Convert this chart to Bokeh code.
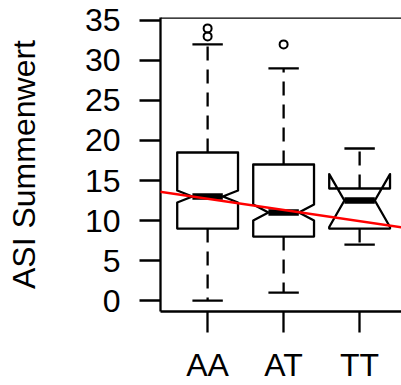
from bokeh.plotting import figure
from bokeh.models import Range1d, FixedTicker, ColumnDataSource, Slope, Span
from bokeh.embed import file_html
from bokeh.resources import INLINE

# Genotype groups and five-number summaries of the ASI sum score
groups = ["AA", "AT", "TT"]
whisker_low = [0, 1, 7]
hinge_low = [9, 8, 9]
medians = [13, 11, 12.5]
hinge_high = [18.5, 17, 14]
whisker_high = [32, 29, 19]
notch_low = [12.25, 10, 9.2]
notch_high = [13.75, 12, 15.8]

# Outlying observations per group
outlier_group = ["AA", "AA", "AT"]
outlier_value = [33, 34, 32]

# Linear trend across genotypes (intercept, slope)
trend_intercept = 14.13
trend_slope = -1.4

y_ticks = [0, 5, 10, 15, 20, 25, 30, 35]

FONT = "Liberation Sans"
LW = 2.3
half_w = 0.4
notch_frac = 0.5
staple_w = 0.2

positions = [i + 1 for i in range(len(groups))]

y_lo, y_hi = -1.36, 35.36
p = figure(width=401, height=385, output_backend="svg", toolbar_location=None,
           x_range=Range1d(0.38, 0.38 + 241 / 76), y_range=Range1d(y_lo, y_hi),
           min_border_left=160, min_border_right=0, min_border_top=17,
           min_border_bottom=74)
p.outline_line_color = None
p.background_fill_color = "white"
p.border_fill_color = "white"
p.xgrid.visible = False
p.ygrid.visible = False

# notched box outlines
xs_list, ys_list = [], []
for x, lo, c1, md, c2, hi in zip(positions, hinge_low, notch_low, medians,
                                 notch_high, hinge_high):
    offs = [-1, 1, 1, notch_frac, 1, 1, -1, -1, -notch_frac, -1]
    xs_list.append([x + half_w * o for o in offs])
    ys_list.append([lo, lo, c1, md, c2, hi, hi, c2, md, c1])
p.patches(xs_list, ys_list, fill_color=None, line_color="black", line_width=LW,
          line_join="round")

# medians
p.segment(x0=[x - half_w * notch_frac for x in positions], y0=medians,
          x1=[x + half_w * notch_frac for x in positions], y1=medians,
          line_color="black", line_width=6.5)

# whiskers (dashed, from hinge outwards)
p.segment(x0=positions + positions, y0=hinge_low + hinge_high,
          x1=positions + positions, y1=whisker_low + whisker_high,
          line_color="black", line_width=LW, line_dash="14 9")

# staples
p.segment(x0=[x - staple_w for x in positions] * 2, y0=whisker_low + whisker_high,
          x1=[x + staple_w for x in positions] * 2, y1=whisker_low + whisker_high,
          line_color="black", line_width=LW)

# outliers
out_src = ColumnDataSource(dict(
    x=[positions[groups.index(g)] for g in outlier_group], y=outlier_value))
p.scatter("x", "y", source=out_src, marker="circle", size=8, fill_color=None,
          line_color="black", line_width=2)

# regression line
p.add_layout(Slope(gradient=trend_slope, y_intercept=trend_intercept,
                   line_color="#ff0000", line_width=2.5))

# top border of the plot region
p.add_layout(Span(location=y_hi, dimension="width", line_color="black",
                  line_width=LW))

# axes
for ax in (p.xaxis[0], p.yaxis[0]):
    ax.axis_line_color = "black"
    ax.axis_line_width = LW
    ax.major_tick_line_color = "black"
    ax.major_tick_line_width = LW
    ax.major_tick_out = 21
    ax.major_tick_in = 0
    ax.minor_tick_line_color = None
    ax.major_label_text_font = FONT
    ax.major_label_text_font_size = "32px"
    ax.major_label_text_color = "black"

p.xaxis.ticker = FixedTicker(ticks=positions)
p.xaxis.major_label_overrides = {x: g for x, g in zip(positions, groups)}
p.xaxis.major_label_standoff = 14

p.yaxis.ticker = FixedTicker(ticks=y_ticks)
p.yaxis.major_label_orientation = "horizontal"
p.yaxis.major_label_standoff = 19
p.yaxis.axis_label = "ASI Summenwert"
p.yaxis.axis_label_text_font = FONT
p.yaxis.axis_label_text_font_size = "32px"
p.yaxis.axis_label_text_font_style = "normal"
p.yaxis.axis_label_text_color = "black"
p.yaxis.axis_label_standoff = 40

open("out.html", "w").write(file_html(p, INLINE))
